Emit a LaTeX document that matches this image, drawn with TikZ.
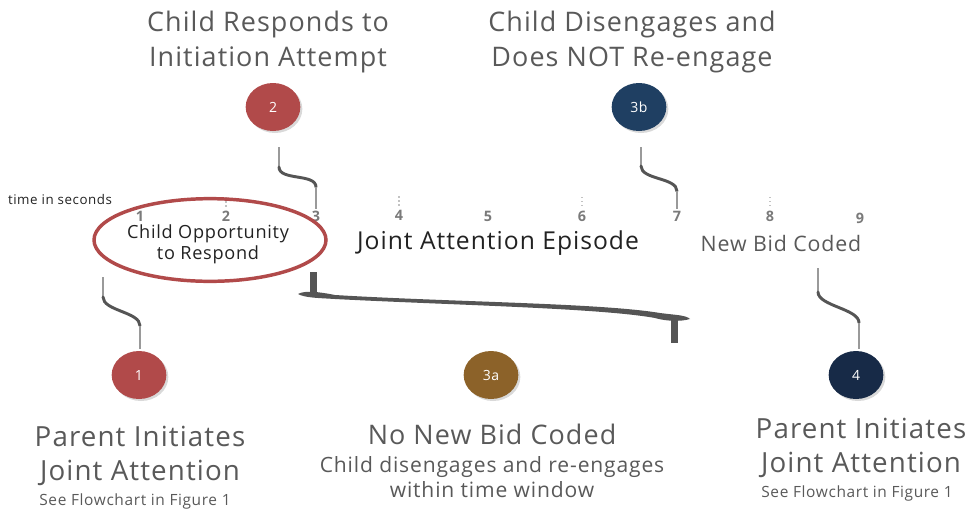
\documentclass[tikz,border=0pt]{standalone}
\usepackage{fontspec}
\setmainfont{Open Sans}[LetterSpace=4]
\usetikzlibrary{shapes.geometric,shadows,calc}
\definecolor{cred}{HTML}{B14A4A}
\definecolor{cbrown}{HTML}{8C6229}
\definecolor{cblue}{HTML}{1F3F62}
\definecolor{cnavy}{HTML}{172A47}
\definecolor{tgrey}{HTML}{595959}
\definecolor{lgrey}{HTML}{9A9A9A}
\definecolor{dgrey}{HTML}{555555}
\definecolor{ngrey}{HTML}{7A7A7A}
\definecolor{tblack}{HTML}{222222}
\begin{document}
\begin{tikzpicture}[x=0.75pt,y=-0.75pt,
  titletxt/.style={text=tgrey, align=center, inner sep=0pt, font=\fontsize{20.2}{25.5}\selectfont},
  bigtxt/.style={text=tgrey, align=center, inner sep=0pt, font=\fontsize{20.8}{25}\selectfont},
  smalltxt/.style={text=tgrey, align=center, inner sep=0pt, font=\fontsize{11.6}{13}\selectfont},
  midtxt/.style={text=tgrey, align=center, inner sep=0pt, font=\fontsize{15.8}{19}\selectfont},
  numtxt/.style={text=ngrey, inner sep=1pt, font=\bfseries\fontsize{10.8}{12}\selectfont},
  thinl/.style={draw=lgrey, line width=1pt},
  curvl/.style={draw=dgrey, line width=2.2pt, line cap=round},
  tickl/.style={draw=lgrey!60, line width=1pt, dotted},
  circ/.style={ellipse, inner sep=0pt, minimum width=41pt, minimum height=36pt,
    text=white, font=\fontsize{10.5}{12}\selectfont,
    drop shadow={shadow xshift=1.5pt, shadow yshift=-1.5pt, opacity=0.3}}
]
\useasboundingbox (0,0) rectangle (970,511);

% titles
\node[titletxt] (t2) at (268,42) {Child Responds to\\Initiation Attempt};
\node[titletxt] (t3b) at (632,42) {Child Disengages and\\Does NOT Re-engage};

% circles
\node[circ, fill=cred] (c2) at (273,107) {2};
\node[circ, fill=cblue] (c3b) at (639,107) {3b};
\node[circ, fill=cred] (c1) at (139,375) {1};
\node[circ, fill=cbrown] (c3a) at (491,375) {3a};
\node[circ, fill=cnavy] (c4) at (856,375) {4};

% time axis
\node[text=tblack, inner sep=0pt, font=\fontsize{10}{12}\selectfont] (tis) at (60,199) {time in seconds};
\node[numtxt] (n1) at (140,216) {1};
\node[numtxt] (n2) at (226,216) {2};
\node[numtxt] (n3) at (316,216) {3};
\node[numtxt] (n4) at (399,215) {4};
\node[numtxt] (n5) at (488,216) {5};
\node[numtxt] (n6) at (582,216) {6};
\node[numtxt] (n7) at (677,216) {7};
\node[numtxt] (n8) at (770,216) {8};
\node[numtxt] (n9) at (860,218) {9};
\foreach \n in {n2,n4,n6,n8}{
  \draw[tickl] ($(\n.north)+(0,-12)$) -- ($(\n.north)+(0,-1)$);
}

% ellipse and episode labels
\node[ellipse, draw=cred, line width=2.6pt, minimum width=174pt, minimum height=62pt,
  inner sep=0pt] (op) at (210,240) {};
\node[align=center, inner sep=0pt, text=tblack, font=\fontsize{13.6}{16}\selectfont] (opt) at (208,244)
  {Child Opportunity\\to Respond};
\node[text=tblack, inner sep=0pt, font=\fontsize{18.5}{22}\selectfont] (ep) at (498,243) {Joint Attention Episode};
\node[text=tgrey, inner sep=0pt, font=\fontsize{16}{20}\selectfont] (nb) at (781,243) {New Bid Coded};

% brace under episode
\fill[dgrey] (310,272) rectangle (317,294);
\fill[dgrey] (671,318) rectangle (678,343);
\fill[dgrey] (298,294) .. controls (305,290) and (320,292) .. (335,295)
  .. controls (450,302) and (600,303) .. (660,313)
  .. controls (675,315) and (686,315) .. (690,319)
  .. controls (680,322) and (665,321) .. (655,318)
  .. controls (600,308) and (450,305) .. (335,299)
  .. controls (320,298) and (305,298) .. (298,294) -- cycle;

% leader 2 -> 3
\draw[thinl] (c2) ++(6,40) -- ++(0,20);
\draw[curvl] (c2) ++(6,60) .. controls +(0,14) and +(0,-14) .. ($(n3.north)+(0,-22)$);
\draw[thinl] ($(n3.north)+(0,-22)$) -- (n3.north);

% leader 3b -> 7
\draw[thinl] (c3b) ++(2,40) -- ++(0,19);
\draw[curvl] (c3b) ++(2,59) .. controls +(0,14) and +(0,-14) .. ($(n7.north)+(0,-18)$);
\draw[thinl] ($(n7.north)+(0,-18)$) -- (n7.north);

% leader opportunity -> 1
\draw[thinl] (op) ++(-107,37) -- ++(0,20);
\draw[curvl] (op) ++(-107,57) .. controls +(0,14) and +(0,-14) .. ($(c1.north)+(1,-25)$);
\draw[thinl] ($(c1.north)+(1,-25)$) -- ($(c1.north)+(1,-2)$);

% leader new bid -> 4
\draw[thinl] (nb) ++(37,25) -- ++(0,24);
\draw[curvl] (nb) ++(37,49) .. controls +(0,14) and +(0,-14) .. ($(c4.north)+(3,-28)$);
\draw[thinl] ($(c4.north)+(3,-28)$) -- ($(c4.north)+(3,-2)$);

% bottom texts
\node[bigtxt] (p1) at (140,456) {Parent Initiates\\Joint Attention};
\node[smalltxt] (s1) at (135,501) {See Flowchart in Figure 1};
\node[titletxt] (nn) at (492,434) {No New Bid Coded};
\node[midtxt] (cd) at (492,477) {Child disengages and re-engages\\within time window};
\node[bigtxt] (p4) at (861,448) {Parent Initiates\\Joint Attention};
\node[smalltxt] (s4) at (857,493) {See Flowchart in Figure 1};
\end{tikzpicture}
\end{document}
